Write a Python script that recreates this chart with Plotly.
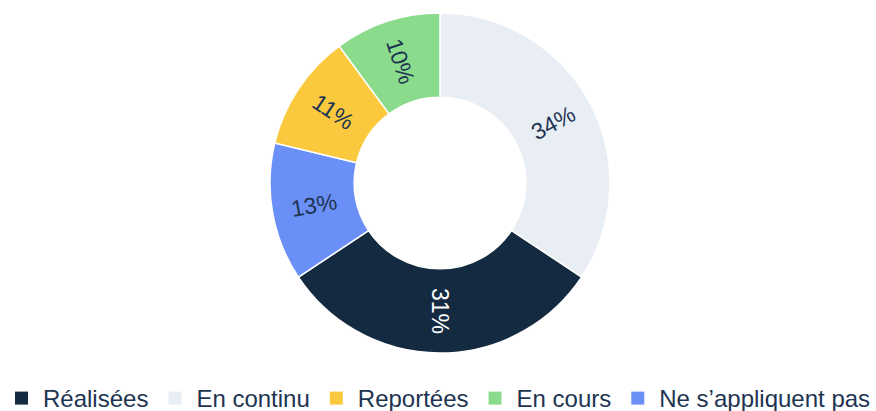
import math
import plotly.graph_objects as go

# Slices, clockwise from 12 o'clock
slice_labels = ["En continu", "Réalisées", "Ne s’appliquent pas", "Reportées", "En cours"]
slice_values = [34, 31, 13, 11, 10]

# Legend entries, in display order
legend_labels = ["Réalisées", "En continu", "Reportées", "En cours", "Ne s’appliquent pas"]

palette = {
    "Réalisées": "#132a40",
    "En continu": "#e9eef4",
    "Reportées": "#fbc93d",
    "En cours": "#8adc8c",
    "Ne s’appliquent pas": "#6a8ff6",
}
label_colours = {"Réalisées": "#ffffff"}

FONT = "Liberation Sans, Arial, sans-serif"
DARK = "#1d3452"

W, H = 876, 411
# donut geometry (pixels)
CX, CY, R_OUT = 440, 183, 170
HOLE = 0.505

fig = go.Figure()

fig.add_trace(go.Pie(
    labels=slice_labels,
    values=slice_values,
    sort=False,
    direction="clockwise",
    rotation=0,
    hole=HOLE,
    marker=dict(colors=[palette[l] for l in slice_labels],
                line=dict(color="#ffffff", width=1.5)),
    textinfo="none",
    domain=dict(x=[(CX - R_OUT) / W, (CX + R_OUT) / W],
                y=[1 - (CY + R_OUT) / H, 1 - (CY - R_OUT) / H]),
    showlegend=False,
    hoverinfo="label+percent",
))

# Percentage labels placed at each slice's mid-angle, oriented along the radius
total = sum(slice_values)
r_mid = R_OUT * (1 + HOLE) / 2
cum = 0
for lab, val in zip(slice_labels, slice_values):
    theta = (cum + val / 2) / total * 360.0          # clockwise from top
    cum += val
    t = math.radians(theta)
    px = CX + r_mid * math.sin(t)
    py = CY - r_mid * math.cos(t)
    ang = theta - 90.0                                 # screen angle of the radius
    if ang > 90:
        ang -= 180
    elif ang <= -90:
        ang += 180
    fig.add_annotation(
        x=px / W, y=1 - py / H, xref="paper", yref="paper",
        text=f"{val}%", showarrow=False, textangle=ang,
        xanchor="center", yanchor="middle",
        font=dict(family=FONT, size=23, color=label_colours.get(lab, DARK)),
    )

for name in legend_labels:
    fig.add_trace(go.Scatter(
        x=[None], y=[None], mode="markers", name=name,
        marker=dict(symbol="square", size=13, color=palette[name]),
    ))

fig.update_layout(
    width=W, height=H,
    margin=dict(l=0, r=0, t=0, b=0, autoexpand=False),
    paper_bgcolor="#ffffff",
    plot_bgcolor="#ffffff",
    xaxis=dict(visible=False),
    yaxis=dict(visible=False),
    legend=dict(
        orientation="h", x=0, xanchor="left", y=0.0304, yanchor="middle",
        font=dict(family=FONT, size=24, color=DARK),
        itemwidth=33,
        itemclick=False,
    ),
)

fig.write_html("out.html")
